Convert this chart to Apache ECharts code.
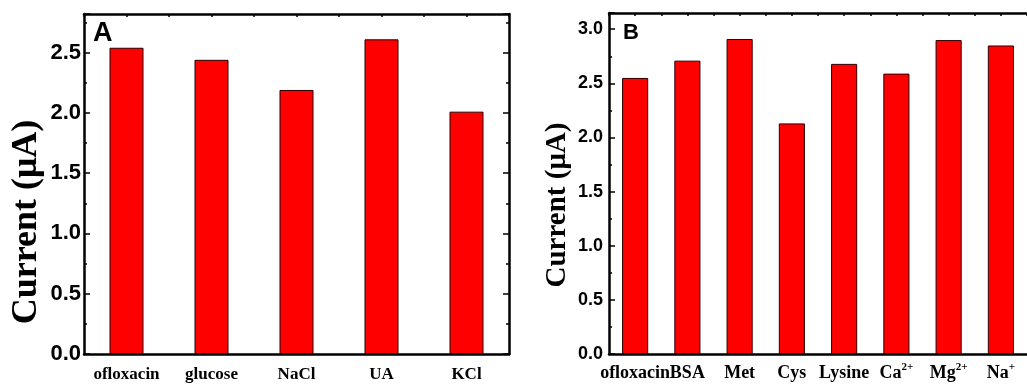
<!DOCTYPE html>
<html>
<head>
<meta charset="utf-8">
<script src="https://cdn.jsdelivr.net/npm/echarts@6/dist/echarts.min.js"></script>
<style>
  html, body { margin: 0; padding: 0; background: #fff; }
  #chart { width: 1027px; height: 387px; }
</style>
</head>
<body>
<div id="chart"></div>
<script>
// Panel A
const catsA   = ['ofloxacin', 'glucose', 'NaCl', 'UA', 'KCl']
const valuesA = [2.54, 2.44, 2.19, 2.61, 2.01]
// Panel B
const catsB   = ['ofloxacin', 'BSA', 'Met', 'Cys', 'Lysine', 'Ca2+', 'Mg2+', 'Na+']
const valuesB = [2.55, 2.71, 2.91, 2.13, 2.68, 2.59, 2.90, 2.85]

const yLabel = 'Current (\u03bcA)'
const BLACK = '#000'
const SERIF = '"Liberation Serif", "Times New Roman", serif'
const SANS  = '"Liberation Sans", Arial, sans-serif'

// ions -> rich text with superscript charge
function ionLabel(v) {
  const m = /^([A-Za-z]+)(\d?\+)$/.exec(v)
  return m ? `${m[1]}{sup|${m[2]}}` : v
}
function halfStep(v) {
  return Math.abs(v * 2 - Math.round(v * 2)) < 1e-6
}

// ── Axis builders ──────────────────────────────────────────
function catAxis(grid, cats, fontSize, margin) {
  return {
    type: 'category', gridIndex: grid, position: 'bottom', data: cats,
    axisLine: { onZero: false, lineStyle: { color: BLACK, width: 2.5 } },
    axisTick: { inside: true, alignWithLabel: true, length: 7, lineStyle: { color: BLACK, width: 1.5 } },
    axisLabel: {
      interval: 0, margin, color: BLACK, fontFamily: SERIF, fontWeight: 'bold', fontSize,
      formatter: ionLabel,
      lineHeight: fontSize + 4,
      rich: { sup: { fontFamily: SERIF, fontWeight: 'bold', fontSize: Math.round(fontSize * 0.6), verticalAlign: 'top', color: BLACK } },
    },
    splitLine: { show: false },
  }
}
function boundaryAxis(grid, cats) {
  return {
    type: 'category', gridIndex: grid, position: 'bottom', data: cats,
    axisLine: { show: false, onZero: false },
    axisTick: { inside: true, length: 4, lineStyle: { color: BLACK, width: 1.5 } },
    axisLabel: { show: false },
    splitLine: { show: false },
  }
}
function topAxis(grid, n) {
  return {
    type: 'value', gridIndex: grid, position: 'top', min: -0.5, max: n - 0.5, interval: 0.5,
    axisLine: { onZero: false, lineStyle: { color: BLACK, width: 2.5 } },
    axisTick: { inside: true, length: 3, lineStyle: { color: BLACK, width: 1.5 } },
    axisLabel: { show: false },
    splitLine: { show: false },
  }
}
function valAxis(grid, max, pos, labelSize, margin) {
  return {
    type: 'value', gridIndex: grid, position: pos, min: 0, max, interval: 0.25,
    axisLine: { onZero: false, lineStyle: { color: BLACK, width: 2.5 } },
    axisTick: { inside: true, length: 3, lineStyle: { color: BLACK, width: 1.5 } },
    axisLabel: {
      show: labelSize > 0, margin, color: BLACK, fontFamily: SANS, fontWeight: 'bold', fontSize: labelSize,
      showMaxLabel: false,
      formatter: v => (halfStep(v) ? v.toFixed(1) : ''),
    },
    splitLine: { show: false },
  }
}
function majorTicks(grid, max, pos) {
  return {
    type: 'value', gridIndex: grid, position: pos, min: 0, max, interval: 0.5,
    axisLine: { show: false, onZero: false },
    axisTick: { inside: true, length: 6, lineStyle: { color: BLACK, width: 1.5 } },
    axisLabel: { show: false },
    splitLine: { show: false },
  }
}

const option = {
  animation: false,
  backgroundColor: '#fff',
  title: [
    { text: 'A', left: 93, top: 20, padding: 0, textStyle: { fontFamily: SANS, fontWeight: 'bold', fontSize: 27, color: BLACK } },
    { text: 'B', left: 623, top: 22, padding: 0, textStyle: { fontFamily: SANS, fontWeight: 'bold', fontSize: 22, color: BLACK } },
  ],
  grid: [
    { left: 84, top: 14, width: 425, height: 340 },
    { left: 609, top: 13, width: 427, height: 341 },
  ],
  xAxis: [
    catAxis(0, catsA, 17, 10),
    boundaryAxis(0, catsA),
    topAxis(0, catsA.length),
    catAxis(1, catsB, 18, 8),
    boundaryAxis(1, catsB),
    topAxis(1, catsB.length),
  ],
  yAxis: [
    valAxis(0, 2.82, 'left', 22, 3),
    majorTicks(0, 2.82, 'left'),
    valAxis(0, 2.82, 'right', 0, 3),
    majorTicks(0, 2.82, 'right'),
    valAxis(1, 3.15, 'left', 18, 6),
    majorTicks(1, 3.15, 'left'),
  ],
  graphic: [
    { type: 'text', x: 27, y: 222, rotation: Math.PI / 2,
      style: { text: yLabel, font: `bold 36px ${SERIF}`, fill: BLACK, align: 'center', verticalAlign: 'middle', textAlign: 'center', textVerticalAlign: 'middle' } },
    { type: 'text', x: 558, y: 205, rotation: Math.PI / 2,
      style: { text: yLabel, font: `bold 29px ${SERIF}`, fill: BLACK, align: 'center', verticalAlign: 'middle', textAlign: 'center', textVerticalAlign: 'middle' } },
  ],
  series: [
    {
      type: 'bar', xAxisIndex: 0, yAxisIndex: 0, data: valuesA, barWidth: '40%',
      itemStyle: { color: '#ff0000', borderColor: '#2a0000', borderWidth: 1 },
    },
    {
      type: 'bar', xAxisIndex: 3, yAxisIndex: 4, data: valuesB, barWidth: '50%',
      itemStyle: { color: '#ff0000', borderColor: '#2a0000', borderWidth: 1 },
    },
  ],
}

const chart = echarts.init(document.getElementById('chart'))
chart.setOption(option)
</script>
</body>
</html>
